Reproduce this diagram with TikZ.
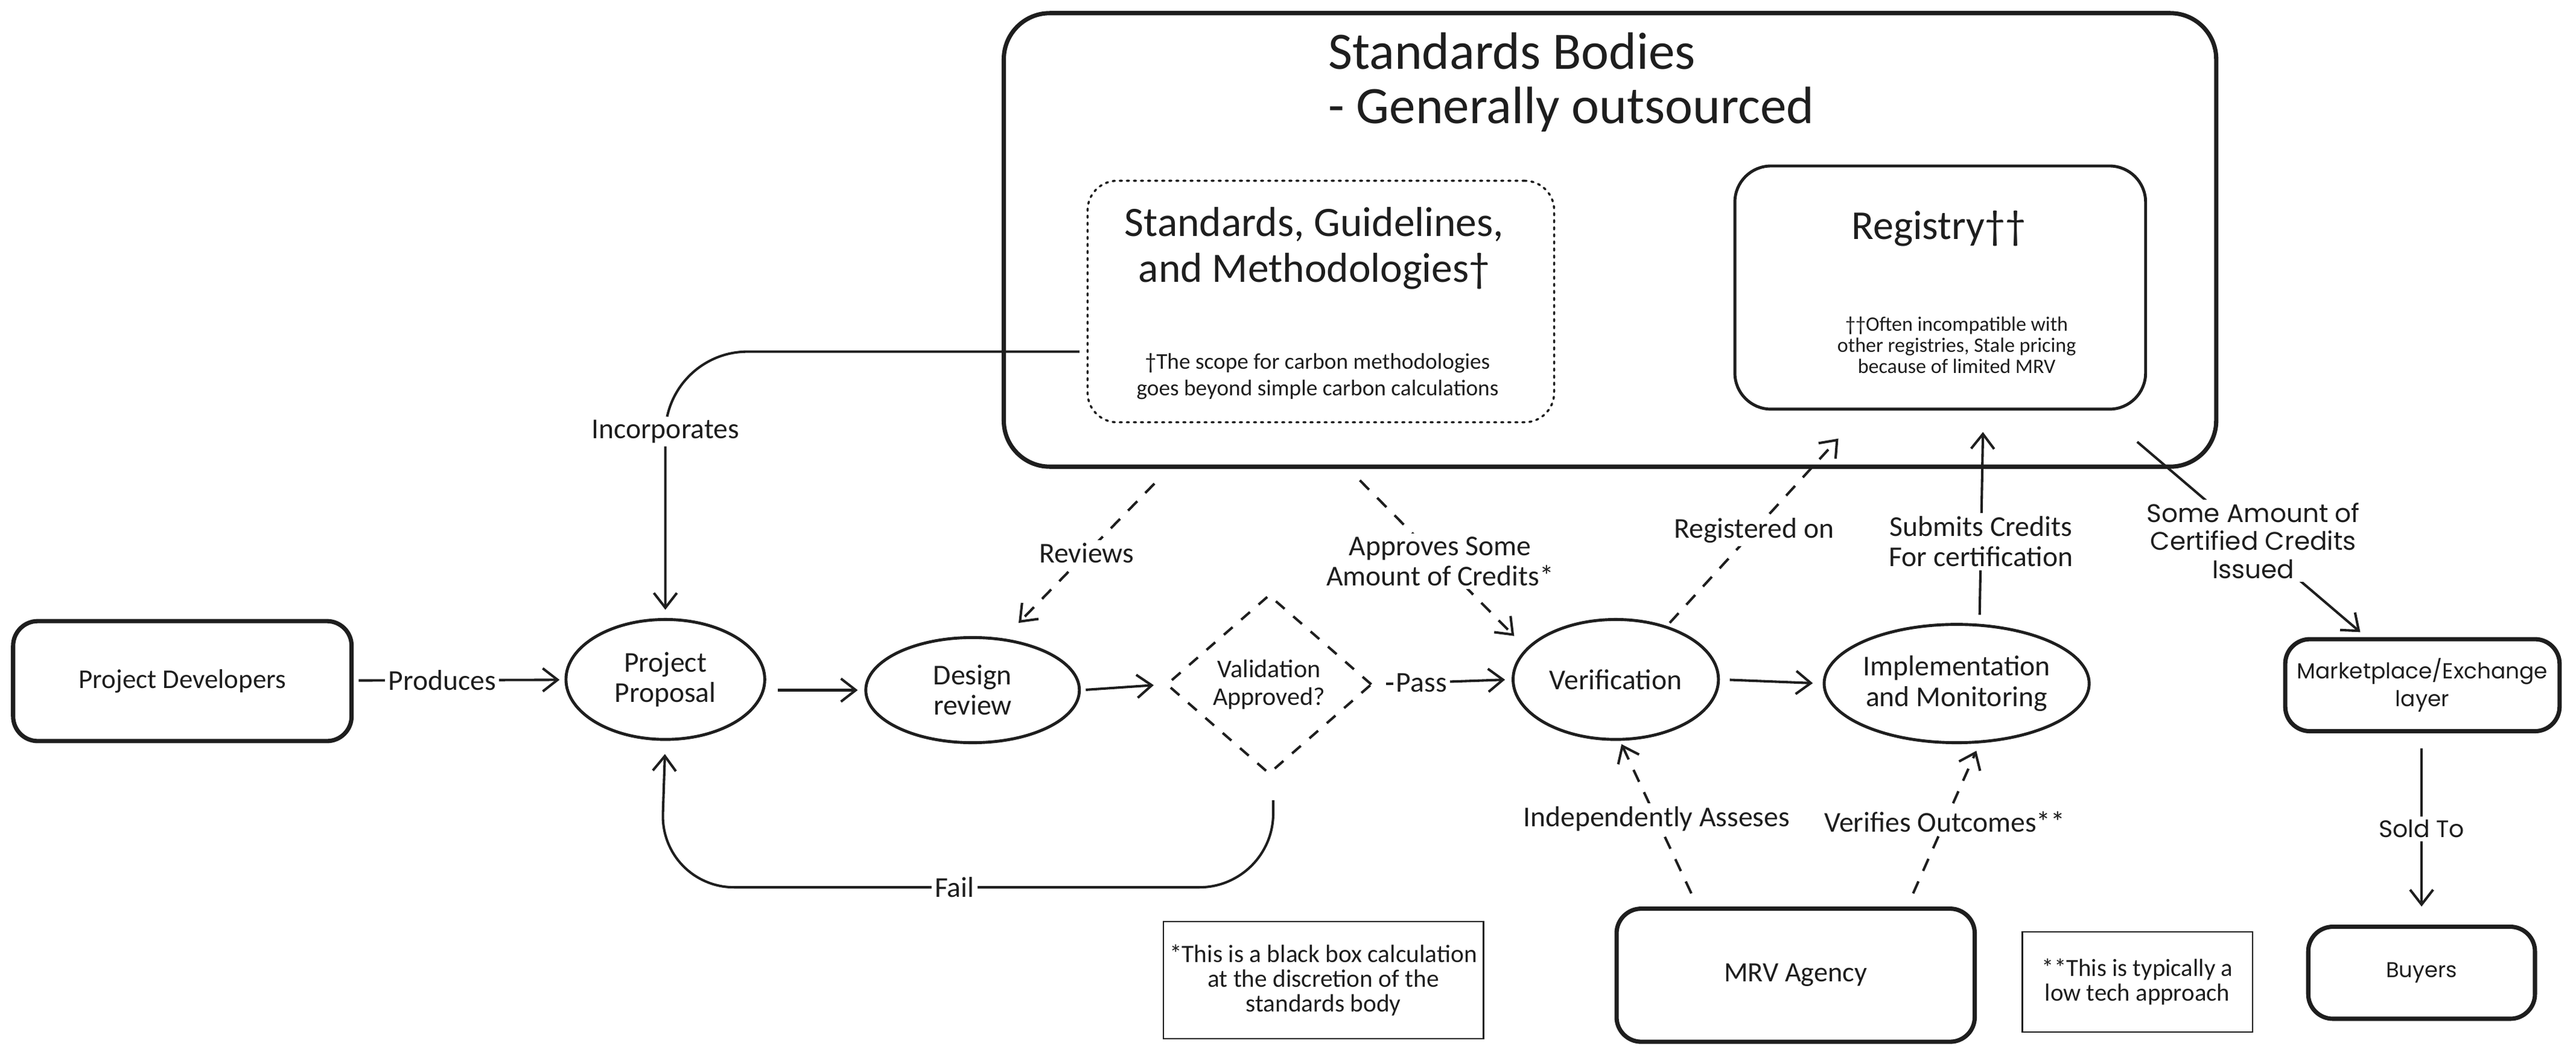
\documentclass[tikz,border=0pt]{standalone}
\usepackage{fontspec}
\setmainfont{Carlito}
\newfontfamily\rfont{Poppins}
\usetikzlibrary{arrows.meta,shapes.geometric}
\definecolor{ink}{HTML}{1E1E1E}
\begin{document}
\begin{tikzpicture}[x=1pt,y=-1pt,
  every node/.style={text=ink},
  thickbox/.style={draw=ink, line width=2.6pt, rounded corners=15pt, align=center},
  midbox/.style={draw=ink, line width=1.8pt, rounded corners=22pt},
  ell/.style={draw=ink, ellipse, line width=1.8pt, inner sep=0pt, align=center, font=\fontsize{17.5}{18.5}\selectfont},
  notebox/.style={draw=ink, line width=0.8pt, align=center, inner sep=0pt},
  conn/.style={draw=ink, line width=1.5pt, -{Straight Barb[length=9pt,width=14pt]}},
  dconn/.style={conn, dash pattern=on 8pt off 7pt},
  lbl/.style={fill=white, inner sep=2pt, align=center, font=\fontsize{17.5}{18.5}\selectfont},
  rlbl/.style={fill=white, inner sep=2pt, align=center, font=\rfont\fontsize{15.5}{17}\selectfont}
]
\useasboundingbox[fill=white] (0,0) rectangle (1568,645.35);

% Standards bodies
\node[thickbox, minimum width=738pt, minimum height=276pt, rounded corners=28pt] (sb) at (980,146) {};
\node[anchor=west, align=left, font=\fontsize{32}{33}\selectfont] (sbt) at (805,50) {Standards Bodies\\- Generally outsourced};

\node[draw=ink, line width=1.3pt, dash pattern=on 1.3pt off 3pt, line cap=round, rounded corners=18pt, minimum width=284pt, minimum height=147pt] (sg) at (804,183.5) {};
\node[font=\fontsize{25.5}{28}\selectfont, align=center] (sgt) at (800,151) {Standards, Guidelines,\\and Methodologies†};
\node[font=\fontsize{13.7}{16}\selectfont, align=center] (sgn) at (802,229) {†The scope for carbon methodologies\\goes beyond simple carbon calculations};

\node[midbox, minimum width=250pt, minimum height=148pt] (reg) at (1181,175) {};
\node[font=\fontsize{25}{28}\selectfont] (regt) at (1180,139) {Registry††};
\node[font=\fontsize{12.5}{12.8}\selectfont, align=center] (regn) at (1191,210) {††Often incompatible with\\other registries, Stale pricing\\because of limited MRV};

% main flow
\node[thickbox, minimum width=206pt, minimum height=73pt, font=\fontsize{16.5}{18}\selectfont] (pd) at (111,414.5) {Project Developers};
\node[ell, minimum width=121pt, minimum height=73pt] (pp) at (405,413.5) {Project\\Proposal};
\node[ell, minimum width=130pt, minimum height=64pt] (dr) at (592,420) {Design\\review};
\node[draw=ink, diamond, line width=1.5pt, dash pattern=on 7pt off 7pt, inner sep=0pt, minimum width=125pt, minimum height=109pt, align=center, font=\fontsize{15.5}{17}\selectfont] (dia) at (772.5,416.5) {Validation\\Approved?};
\node[ell, minimum width=125pt, minimum height=73pt] (ver) at (983.5,413.5) {Verification};
\node[ell, minimum width=150pt, minimum height=72pt] (impl) at (1191,416) {Implementation\\and Monitoring};

\node[thickbox, minimum width=167pt, minimum height=56pt, font=\rfont\fontsize{13.2}{17}\selectfont] (mp) at (1474.5,417) {Marketplace/Exchange\\layer};
\node[thickbox, minimum width=138pt, minimum height=56pt, font=\rfont\fontsize{13}{17}\selectfont] (buy) at (1474,592) {Buyers};
\node[thickbox, minimum width=218pt, minimum height=81pt, font=\fontsize{17}{18}\selectfont] (mrv) at (1093,593.5) {MRV Agency};

\node[notebox, minimum width=195pt, minimum height=71pt, font=\fontsize{15.2}{15}\selectfont] (n1) at (805.5,596.5) {*This is a black box calculation\\at the discretion of the\\standards body};
\node[notebox, minimum width=140pt, minimum height=61pt, font=\fontsize{15}{15}\selectfont] (n2) at (1301,597.5) {**This is typically a\\low tech approach};

% connector end points
\coordinate (incA) at (657,214);
\coordinate (failA) at (775,487);
\coordinate (failB) at (402,540);

% connectors
\draw[conn, shorten <=3pt, shorten >=3pt] (pd) -- node[lbl, pos=0.42]{Produces} (pp);
\draw[conn, shorten <=7pt, shorten >=4pt] (pp.east |- dr) -- (dr.west);
\draw[conn, shorten <=3pt, shorten >=7pt] (dr.east) -- (dia.west);
\draw[conn, shorten <=8pt, shorten >=4pt] (dia.east) -- node[lbl, pos=0.35]{Pass} (ver.west);
\draw[conn, shorten <=6pt, shorten >=6pt] (ver.east) -- (impl.west);

\draw[conn, rounded corners=50pt, shorten >=5pt] (incA) -| node[lbl, pos=0.65]{Incorporates} (pp.north);
\draw[conn, rounded corners=45pt, shorten >=8pt] (failA) |- node[lbl, pos=0.76]{Fail} (failB) -- (pp.south);

\draw[dconn] ([shift={(93,9)}]sb.south west) -- node[lbl, pos=0.5]{Reviews} ([shift={(28,-8)}]dr.north);
\draw[dconn] ([shift={(218,7)}]sb.south west) -- node[lbl, pos=0.52]{Approves Some\\Amount of Credits*} ([shift={(-17,0)}]ver.north west);
\draw[dconn] ([shift={(-12,-8)}]ver.north east) -- node[lbl, pos=0.5]{Registered on} ([shift={(-62,17)}]reg.south);
\draw[conn] ([shift={(14,-5)}]impl.north) -- node[lbl, pos=0.4]{Submits Credits\\For certification} ([shift={(26,13)}]reg.south);
\draw[conn] ([shift={(-6,19)}]reg.south east) -- node[rlbl, pos=0.52]{Some Amount of\\Certified Credits\\Issued} ([shift={(47,-3)}]mp.north west);
\draw[conn, shorten <=9pt, shorten >=11pt] (mp.south -| buy.north) -- node[rlbl, font=\rfont\fontsize{14.5}{17}\selectfont]{Sold To} (buy.north);
\draw[dconn] ([shift={(-63.5,-8)}]mrv.north) -- node[lbl, pos=0.5]{Independently Asseses} ([shift={(3.5,2)}]ver.south);
\draw[dconn] ([shift={(71.5,-8)}]mrv.north) -- node[lbl, pos=0.5]{Verifies Outcomes**} ([shift={(12,4)}]impl.south);
\end{tikzpicture}
\end{document}
